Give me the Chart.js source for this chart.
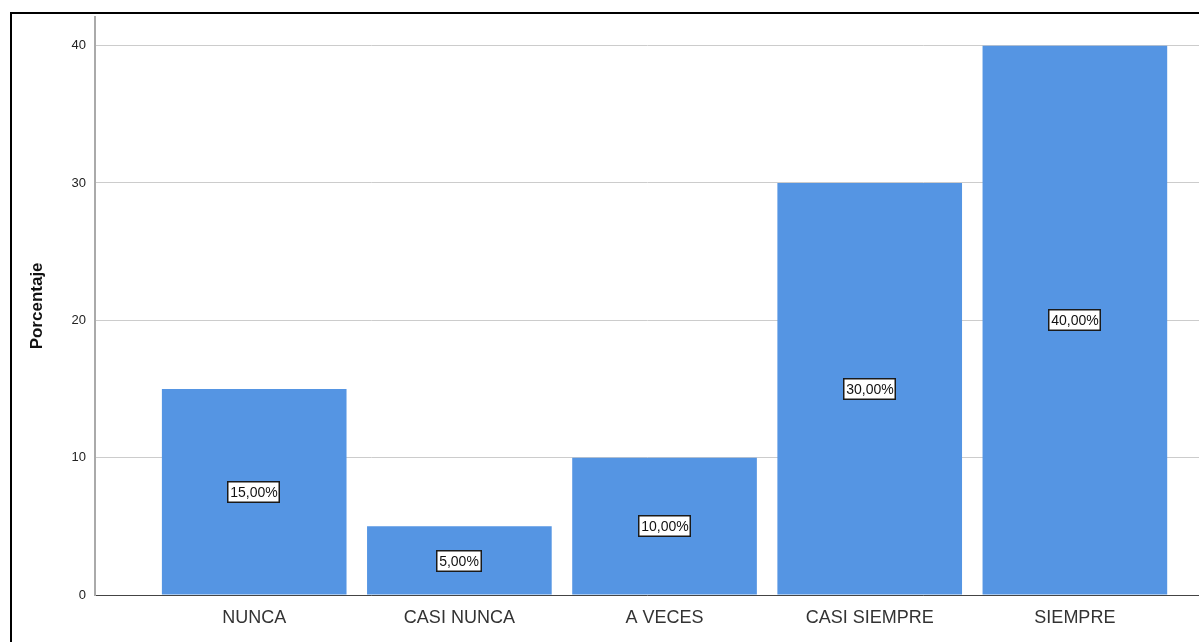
<!DOCTYPE html>
<html>
<head>
<meta charset="utf-8">
<script src="https://cdn.jsdelivr.net/npm/chart.js@4/dist/chart.umd.min.js"></script>
<style>
  html, body { margin: 0; padding: 0; background: #fff; }
  #wrap { position: relative; width: 1199px; height: 642px; overflow: hidden; }
  #frame { position: absolute; left: 10px; top: 12px; width: 1300px; height: 700px;
           border-left: 2px solid #000; border-top: 2px solid #000; box-sizing: border-box; }
  canvas { position: absolute; left: 0; top: 0; }
</style>
</head>
<body>
<div id="wrap">
  <div id="frame"></div>
  <canvas id="bar-chart" width="1199" height="642"></canvas>
</div>
<script>
var categories = ["NUNCA", "CASI NUNCA", "A VECES", "CASI SIEMPRE", "SIEMPRE"];
var porcentajes = [15, 5, 10, 30, 40];
var etiquetas = ["15,00%", "5,00%", "10,00%", "30,00%", "40,00%"];
var yTicks = [0, 10, 20, 30, 40];

var points = [];
for (var i = 0; i < porcentajes.length; i++) {
	points.push({ x: i, y: porcentajes[i] });
}

// cajas blancas con el porcentaje a media altura de cada barra
var boxLabels = {
	id: "boxLabels",
	afterDatasetsDraw: function(chart) {
		var ctx = chart.ctx;
		var meta = chart.getDatasetMeta(0);
		var yScale = chart.scales.y;
		ctx.save();
		ctx.font = "14px Arial, 'Liberation Sans', sans-serif";
		ctx.textAlign = "center";
		ctx.textBaseline = "middle";
		meta.data.forEach(function(bar, i) {
			var cy = Math.round(yScale.getPixelForValue(porcentajes[i] / 2));
			var cx = Math.round(bar.x);
			var w = Math.round(ctx.measureText(etiquetas[i]).width) + 6;
			var h = 22;
			var x0 = cx - Math.round(w / 2);
			var y0 = cy - h / 2;
			ctx.fillStyle = "#ffffff";
			ctx.fillRect(x0, y0, w, h);
			ctx.strokeStyle = "#1a1a1a";
			ctx.lineWidth = 1.5;
			ctx.strokeRect(x0 + 0.75, y0 + 0.75, w - 1.5, h - 1.5);
			ctx.fillStyle = "#111";
			ctx.fillText(etiquetas[i], cx, cy + 1);
		});
		ctx.restore();
	}
};

var ctx = document.getElementById("bar-chart").getContext("2d");
var myChart = new Chart(ctx, {
	type: "bar",
	data: {
		datasets: [{
			label: "Porcentaje",
			backgroundColor: "#5595e3",
			borderWidth: 0,
			data: points,
			barPercentage: 0.9,
			categoryPercentage: 1.0
		}]
	},
	options: {
		responsive: false,
		animation: false,
		events: [],
		layout: { padding: { top: 15, right: 0, left: 0, bottom: 0 } },
		plugins: {
			legend: { display: false },
			tooltip: { enabled: false }
		},
		scales: {
			x: {
				type: "linear",
				offset: false,
				min: -0.776,
				max: 4.605,
				afterBuildTicks: function(scale) {
					scale.ticks = categories.map(function(c, i) { return { value: i }; });
				},
				afterFit: function(scale) { scale.height = 47; },
				grid: { display: false, drawTicks: false },
				border: { display: true, color: "#444", width: 1 },
				ticks: {
					autoSkip: false,
					maxRotation: 0,
					padding: 12,
					color: "#333",
					font: { family: "Arial, 'Liberation Sans', sans-serif", size: 18 },
					callback: function(v) { return categories[v]; }
				}
			},
			y: {
				min: 0,
				max: 42.1,
				afterBuildTicks: function(scale) {
					scale.ticks = yTicks.map(function(v) { return { value: v }; });
				},
				afterFit: function(scale) { scale.width = 95; },
				grid: { color: "#cccccc", lineWidth: 1, drawTicks: false },
				border: { display: true, color: "#aaa", width: 2 },
				ticks: {
					padding: 9,
					color: "#222",
					font: { family: "Arial, 'Liberation Sans', sans-serif", size: 13 }
				},
				title: {
					display: true,
					text: "Porcentaje",
					color: "#111",
					padding: { top: 27, bottom: 0 },
					font: { family: "Arial, 'Liberation Sans', sans-serif", size: 17, weight: "bold" }
				}
			}
		}
	},
	plugins: [boxLabels]
});
</script>
</body>
</html>
